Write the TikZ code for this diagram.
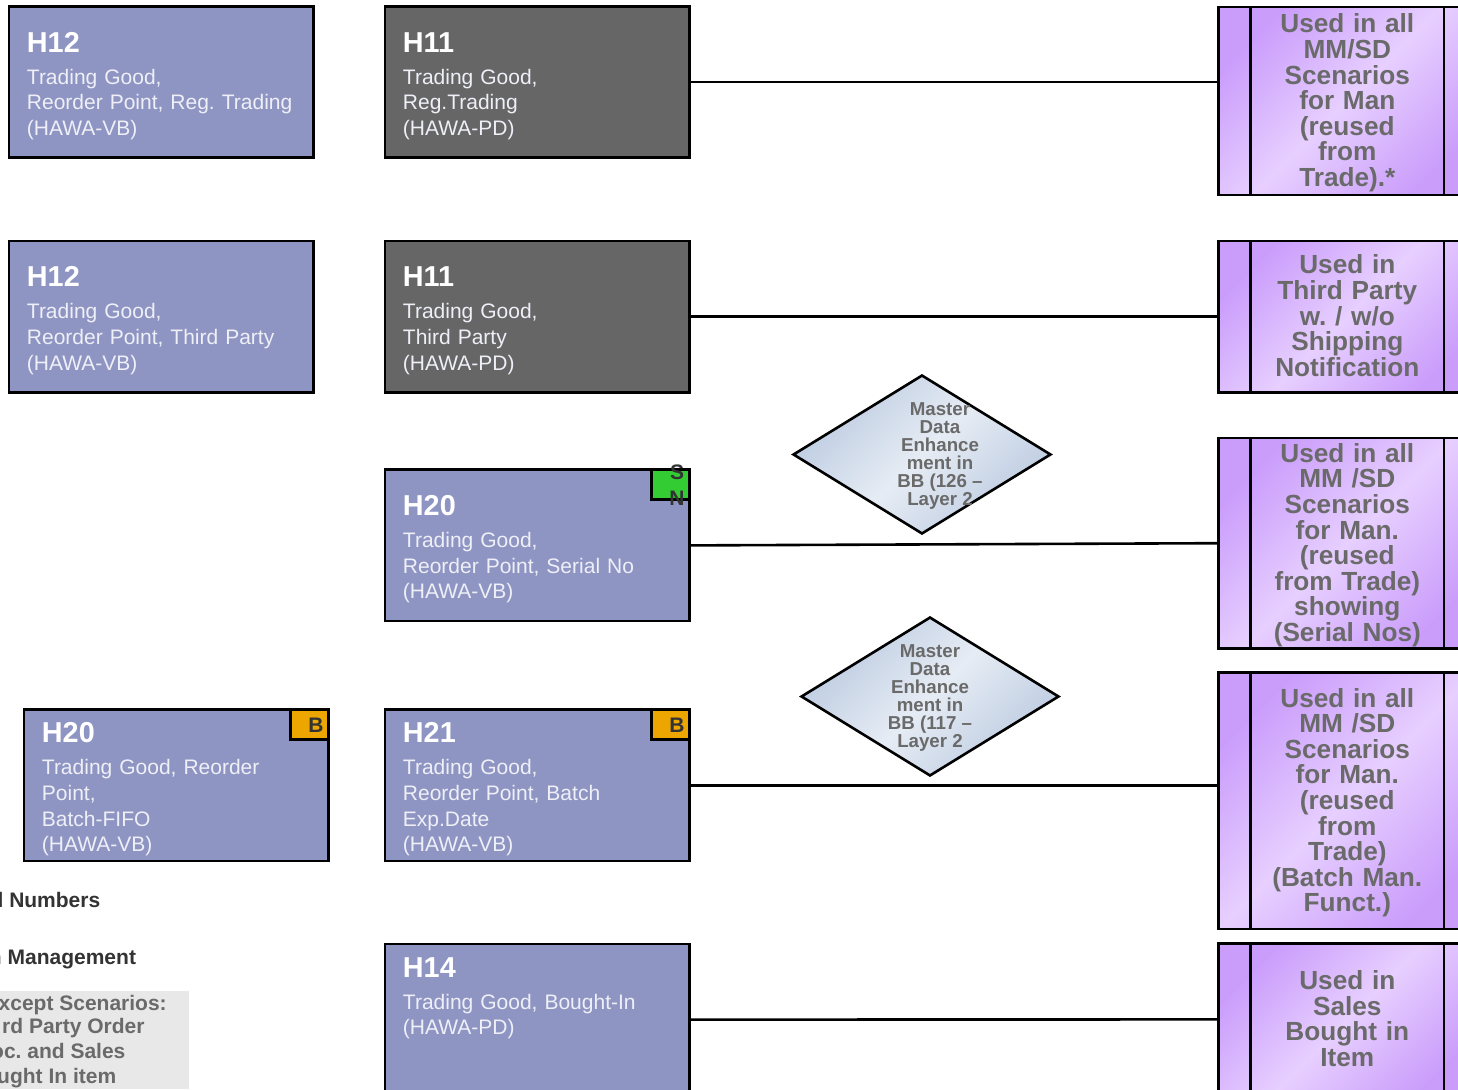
\documentclass[tikz,border=0pt]{standalone}
\usepackage{fontspec}
\setmainfont{Liberation Sans}
\frenchspacing
\usetikzlibrary{shapes, shapes.geometric}
\definecolor{boxblue}{HTML}{8F95C3}
\definecolor{boxdark}{HTML}{666666}
\definecolor{boxtext}{HTML}{EEEFF7}
\definecolor{usedtext}{HTML}{6A6A6A}
\definecolor{useddark}{HTML}{CA9DFB}
\definecolor{usedlight}{HTML}{E7CFFF}
\definecolor{diadark}{HTML}{BCCBE1}
\definecolor{dialight}{HTML}{E6ECF4}
\definecolor{badgegreen}{HTML}{33CC33}
\definecolor{badgeorange}{HTML}{EDA500}
\definecolor{legendtext}{HTML}{333333}
\definecolor{legendgrey}{HTML}{E8E8E8}
\newcommand{\boxtitle}[1]{{\bfseries\color{white}\fontsize{28.8}{28.8}\selectfont\rule{0pt}{28pt}#1}\\[6.4pt]}
\newcommand{\topstrut}{\rule{0pt}{23pt}}
\newcommand{\botstrut}{\rule[-2pt]{0pt}{2pt}}

\begin{document}
\begin{tikzpicture}[x=1pt, y=-1pt,
  bluebox/.style={rectangle, draw, line width=2.6pt, fill=boxblue, text=boxtext, minimum width=304.7pt, minimum height=151.4pt, text width=268.7pt, inner xsep=18pt, inner ysep=0pt, align=left, font=\fontsize{21}{25.6}\selectfont},
  darkbox/.style={bluebox, fill=boxdark},
  usedbox/.style={rectangle, draw, line width=2.6pt, left color=useddark, right color=useddark, middle color=usedlight, shading angle=45, minimum width=258pt, text width=190pt, inner sep=0pt, align=center, text=usedtext, font=\bfseries\fontsize{26.2}{25.6}\selectfont,
    path picture={\draw[line width=2.6pt] ([xshift=32.3pt]path picture bounding box.north west) -- ([xshift=32.3pt]path picture bounding box.south west);
      \draw[line width=2.6pt] ([xshift=-32.5pt]path picture bounding box.north east) -- ([xshift=-32.5pt]path picture bounding box.south east);}},
  decision/.style={diamond, draw, line width=2.6pt, left color=diadark, right color=diadark, middle color=dialight, shading angle=45, aspect=1.62, minimum width=258pt, minimum height=159pt, inner sep=0pt},
  decisiontext/.style={align=center, inner sep=0pt, text=usedtext, font=\bfseries\fontsize{18.7}{18}\selectfont},
  badge/.style={rectangle, draw, line width=2.6pt, minimum width=38pt, minimum height=30pt, inner sep=0pt},
  badgetext/.style={align=center, inner sep=0pt, text=legendtext, font=\bfseries\fontsize{21}{26}\selectfont},
  legendline/.style={anchor=west, inner sep=0pt, font=\bfseries\fontsize{21}{23}\selectfont},
  conn/.style={line width=2.6pt}]
\useasboundingbox (0,0) rectangle (1458,1089);
\clip (0,0) rectangle (1458,1089);
% left column
\node[bluebox] (h12a) at (161.3,82) {\boxtitle{H12}Trading Good,\\Reorder Point, Reg. Trading\\(HAWA-VB)};
\node[bluebox] (h12b) at (161.3,316.7) {\boxtitle{H12}Trading Good,\\Reorder Point, Third Party\\(HAWA-VB)};
\node[bluebox] (h20a) at (176.3,785.4) {\boxtitle{H20}Trading Good, Reorder\\Point,\\Batch-FIFO\\(HAWA-VB)};
% middle column
\node[darkbox] (h11a) at (537.3,82) {\boxtitle{H11}Trading Good,\\Reg.Trading\\(HAWA-PD)};
\node[darkbox] (h11b) at (537.3,316.7) {\boxtitle{H11}Trading Good,\\Third Party\\(HAWA-PD)};
\node[bluebox] (h20b) at (537.3,545.4) {\boxtitle{H20}Trading Good,\\Reorder Point, Serial No\\(HAWA-VB)};
\node[bluebox] (h21) at (537.3,785.4) {\boxtitle{H21}Trading Good,\\Reorder Point, Batch\\Exp.Date\\(HAWA-VB)};
\node[bluebox] (h14) at (537.3,1019.6) {\boxtitle{H14}Trading Good, Bought-In\\(HAWA-PD)\\ \mbox{}\\ \rule[-4.4pt]{0pt}{4.4pt}};
% badges
\node[badge, fill=badgegreen] (sn) at (670.6,484.7) {};
\node[badgetext] (sntext) at (677,484.7) {S\\N};
\node[badge, fill=badgeorange] (bleft) at (309.7,724.7) {};
\node[badgetext] (blefttext) at (316,725.3) {B};
\node[badge, fill=badgeorange] (bmid) at (670.6,724.7) {};
\node[badgetext] (bmidtext) at (677,725.3) {B};
% right column
\node[usedbox, minimum height=188pt] (used1) at (1347.3,101) {\topstrut Used in all\\MM/SD\\Scenarios\\for Man\\(reused\\from\\Trade).*};
\node[usedbox, minimum height=151.4pt] (used2) at (1347.3,316.7) {Used in\\Third Party\\w. / w/o\\Shipping\\Notification\botstrut};
\node[usedbox, minimum height=210.5pt] (used3) at (1347.3,543.2) {\topstrut Used in all\\MM /SD\\Scenarios\\for Man.\\(reused\\from Trade)\\showing\\(Serial Nos)};
\node[usedbox, minimum height=256.4pt] (used4) at (1347.3,800.8) {\topstrut Used in all\\MM /SD\\Scenarios\\for Man.\\(reused\\from\\Trade)\\(Batch Man.\\Funct.)};
\node[usedbox, minimum height=151.4pt] (used5) at (1347.3,1019.4) {Used in\\Sales\\Bought in\\Item\botstrut};
% diamonds
\node[decision] (md1) at (922,454.5) {};
\node[decisiontext] (md1text) at (940,456) {Master\\Data\\Enhance\\ment in\\BB (126 –\\Layer 2};
\node[decision] (md2) at (930,696.5) {};
\node[decisiontext] (md2text) at (930,698) {Master\\Data\\Enhance\\ment in\\BB (117 –\\Layer 2};
% connectors
\draw[conn] (h11a.east) -- (h11a.east -| used1.west);
\draw[conn] (h11b.east) -- (used2.west);
\draw[conn] (h20b.east) -- (used3.west);
\draw[conn] (h21.east) -- (h21.east -| used4.west);
\draw[conn] (h14.east) -- (used5.west);
% legend
\node[legendline, text=legendtext] (legserial) at (-2.6,900) {l Numbers};
\node[legendline, text=legendtext] (legbatch) at (-11.2,959) {n Management};
\node[rectangle, fill=legendgrey, minimum width=195pt, minimum height=98pt, inner sep=0pt] (legbox) at (91.5,1040) {};
\node[legendline, text=usedtext] (leg1) at (-1.5,1005) {xcept Scenarios:};
\node[legendline, text=usedtext] (leg2) at (2,1028) {rd Party Order};
\node[legendline, text=usedtext] (leg3) at (-9,1051) {oc. and Sales};
\node[legendline, text=usedtext] (leg4) at (-3,1078) {ught In item};
\end{tikzpicture}
\end{document}
